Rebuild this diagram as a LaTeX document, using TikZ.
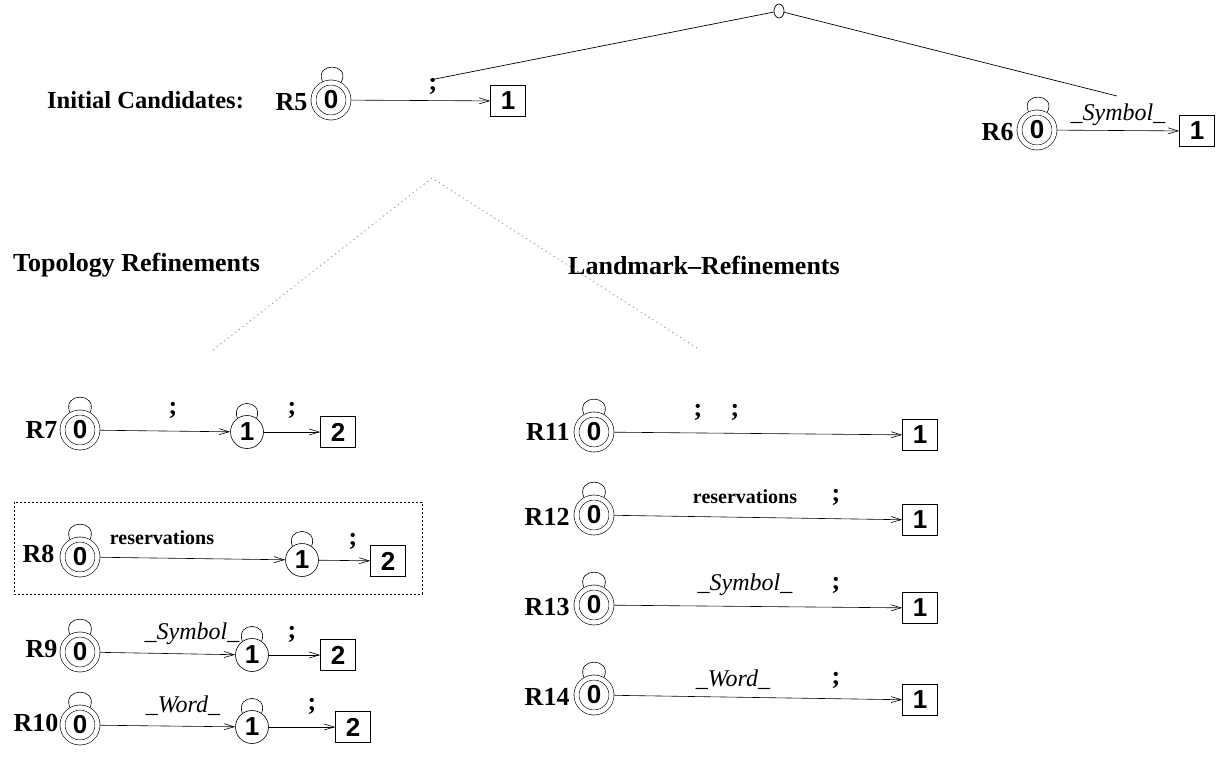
\documentclass[tikz,border=0pt]{standalone}
\usepackage{fontspec}
\setmainfont{Liberation Serif}
\newfontfamily\hv{Liberation Sans}
\usetikzlibrary{arrows.meta,shapes.geometric}
\begin{document}
\begin{tikzpicture}[x=1pt,y=-1pt,
  lab/.style={font=\fontsize{26}{28}\selectfont\bfseries, inner sep=0pt, anchor=east},
  acc/.style={circle, draw, double, double distance=4.4pt, line width=0.6pt, minimum size=35pt, inner sep=0pt, outer sep=2.8pt, font=\hv\fontsize{26}{28}\selectfont\bfseries},
  mid/.style={circle, draw, line width=0.6pt, minimum size=33pt, inner sep=0pt, font=\hv\fontsize{26}{28}\selectfont\bfseries},
  fin/.style={rectangle, draw, line width=0.6pt, minimum width=35pt, minimum height=31pt, inner sep=0pt, font=\hv\fontsize{26}{28}\selectfont\bfseries},
  trans/.style={draw, line width=0.6pt, -{Straight Barb[length=10pt,width=6pt]}},
  lp/.style={line width=0.6pt},
  semi/.style={font=\fontsize{26}{28}\selectfont\bfseries, inner sep=0pt},
  itl/.style={font=\fontsize{24}{26}\selectfont\itshape, inner sep=0pt},
  wrd/.style={font=\fontsize{20}{22}\selectfont\bfseries, inner sep=0pt},
  head/.style={font=\fontsize{26}{28}\selectfont\bfseries, inner sep=0pt, anchor=west},
  tree/.style={line width=0.7pt},
  refl/.style={gray, line width=0.7pt, dash pattern=on 1.2pt off 3.5pt}
]
\useasboundingbox (0,0) rectangle (1216,761);

% top tree
\node[ellipse, draw, line width=0.7pt, minimum width=10pt, minimum height=14pt, inner sep=0pt] (top) at (779,11) {};
\coordinate (tl) at (430,80);
\coordinate (trr) at (1117,96);
\draw[tree] (tl) -- (top);
\draw[tree] (top) -- (trr);

% headings
\node[head, font=\fontsize{24.5}{28}\selectfont\bfseries] (hinit) at (47,100) {Initial Candidates:};
\node[head] (htop) at (13,265) {Topology Refinements};
\node[head] (hland) at (568,265) {Landmark--Refinements};

% refinement lines
\coordinate (apex) at (432,178);
\coordinate (dl) at (213,350);
\coordinate (dr) at (697,348);
\draw[refl] (dl) -- (apex) -- (dr);

% R5
\node[acc] (r5a) at (331,100) {0};
\node[lab] (r5l) at ([xshift=-3pt,yshift=-2pt]r5a.west) {R5};
\node[fin] (r5b) at (508,101) {1};
\draw[lp] (r5a.115) .. controls +(-112:22) and +(-62:22) .. (r5a.60);
\draw[trans] (r5a) -- (r5b);
\node[semi] (r5s) at (433,86) {;};

% R6
\node[acc] (r6a) at (1037,130) {0};
\node[lab] (r6l) at ([xshift=-3pt,yshift=-2pt]r6a.west) {R6};
\node[fin] (r6b) at (1197,131) {1};
\draw[lp] (r6a.115) .. controls +(-112:22) and +(-62:22) .. (r6a.60);
\draw[trans] (r6a) -- (r6b);
\node[itl] (r6s) at (1118,115) {\_Symbol\_};

% R7
\node[acc] (r7a) at (80,430) {0};
\node[lab] (r7l) at ([xshift=-2pt]r7a.west) {R7};
\node[mid] (r7m) at (247,432) {1};
\node[fin] (r7b) at (338,432) {2};
\draw[lp] (r7a.120) .. controls +(-112:22) and +(-68:22) .. (r7a.60);
\draw[lp] (r7m.125) .. controls +(-110:21) and +(-70:21) .. (r7m.55);
\draw[trans] (r7a) -- (r7m);
\draw[trans] (r7m) -- (r7b);
\node[semi] (r7s1) at (173,410) {;};
\node[semi] (r7s2) at (292,410) {;};

% R8
\draw[line width=1pt, dash pattern=on 2pt off 2pt] (14,502) rectangle (422,594);
\node[acc] (r8a) at (80,557) {0};
\node[lab] (r8l) at ([xshift=-5pt,yshift=3pt]r8a.west) {R8};
\node[mid] (r8m) at (302,560) {1};
\node[fin] (r8b) at (388,561) {2};
\draw[lp] (r8a.120) .. controls +(-112:22) and +(-68:22) .. (r8a.60);
\draw[lp] (r8m.125) .. controls +(-110:21) and +(-70:21) .. (r8m.55);
\draw[trans] (r8a) -- (r8m);
\draw[trans] (r8m) -- (r8b);
\node[wrd] (r8w) at (162,538) {reservations};
\node[semi] (r8s) at (353,541) {;};

% R9
\node[acc] (r9a) at (80,652) {0};
\node[lab] (r9l) at ([xshift=-2pt,yshift=3pt]r9a.west) {R9};
\node[mid] (r9m) at (252,655) {1};
\node[fin] (r9b) at (338,655) {2};
\draw[lp] (r9a.120) .. controls +(-112:22) and +(-68:22) .. (r9a.60);
\draw[lp] (r9m.125) .. controls +(-110:21) and +(-70:21) .. (r9m.55);
\draw[trans] (r9a) -- (r9m);
\draw[trans] (r9m) -- (r9b);
\node[itl] (r9w) at (192,634) {\_Symbol\_};
\node[semi] (r9s) at (292,634) {;};

% R10
\node[acc] (r10a) at (80,725) {0};
\node[lab] (r10l) at ([xshift=-1pt,yshift=2pt]r10a.west) {R10};
\node[mid] (r10m) at (252,727) {1};
\node[fin] (r10b) at (353,727) {2};
\draw[lp] (r10a.120) .. controls +(-112:22) and +(-68:22) .. (r10a.60);
\draw[lp] (r10m.125) .. controls +(-110:21) and +(-70:21) .. (r10m.55);
\draw[trans] (r10a) -- (r10m);
\draw[trans] (r10m) -- (r10b);
\node[itl] (r10w) at (183,706) {\_Word\_};
\node[semi] (r10s) at (312,706) {;};

% R11
\node[acc] (r11a) at (594,432) {0};
\node[lab] (r11l) at ([xshift=-4pt]r11a.west) {R11};
\node[fin] (r11b) at (920,435) {1};
\draw[lp] (r11a.120) .. controls +(-112:22) and +(-68:22) .. (r11a.60);
\draw[trans] (r11a) -- (r11b);
\node[semi] (r11s1) at (698,412) {;};
\node[semi] (r11s2) at (735,412) {;};

% R12
\node[acc] (r12a) at (594,515) {0};
\node[lab] (r12l) at ([xshift=-4pt,yshift=-2pt]r12a.west) {R12};
\node[fin] (r12b) at (920,520) {1};
\draw[lp] (r12a.120) .. controls +(-112:22) and +(-68:22) .. (r12a.60);
\draw[trans] (r12a) -- (r12b);
\node[wrd] (r12w) at (745,497) {reservations};
\node[semi] (r12s) at (836,497) {;};

% R13
\node[acc] (r13a) at (594,605) {0};
\node[lab] (r13l) at ([xshift=-4pt,yshift=-2pt]r13a.west) {R13};
\node[fin] (r13b) at (920,608) {1};
\draw[lp] (r13a.120) .. controls +(-112:22) and +(-68:22) .. (r13a.60);
\draw[trans] (r13a) -- (r13b);
\node[itl] (r13w) at (745,585) {\_Symbol\_};
\node[semi] (r13s) at (836,585) {;};

% R14
\node[acc] (r14a) at (594,695) {0};
\node[lab] (r14l) at ([xshift=-4pt,yshift=-2pt]r14a.west) {R14};
\node[fin] (r14b) at (920,700) {1};
\draw[lp] (r14a.120) .. controls +(-112:22) and +(-68:22) .. (r14a.60);
\draw[trans] (r14a) -- (r14b);
\node[itl] (r14w) at (733,680) {\_Word\_};
\node[semi] (r14s) at (836,680) {;};
\end{tikzpicture}
\end{document}
